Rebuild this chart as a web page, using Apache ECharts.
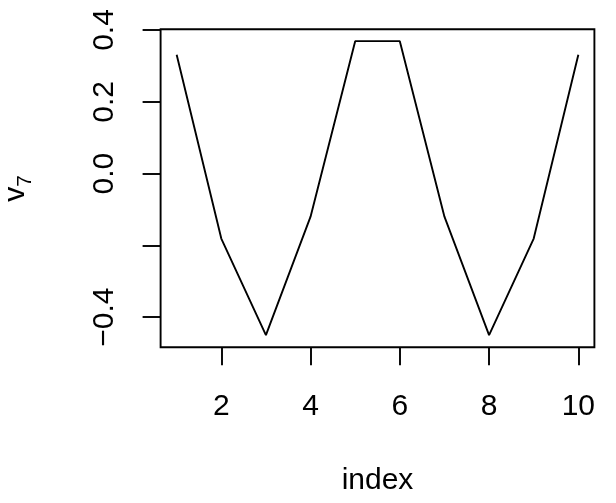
<!DOCTYPE html>
<html>
<head>
<meta charset="utf-8">
<script src="https://cdn.jsdelivr.net/npm/echarts@6/dist/echarts.min.js"></script>
<style>
  html, body { margin: 0; padding: 0; background: #fff; }
  #chart { width: 616px; height: 503px; }
</style>
</head>
<body>
<div id="chart"></div>
<script>
// values
const index = [1, 2, 3, 4, 5, 6, 7, 8, 9, 10];
const v7 = [0.331, -0.181, -0.450, -0.120, 0.369, 0.369, -0.120, -0.450, -0.181, 0.331];
const xTicks = [2, 4, 6, 8, 10];
const yTicks = [-0.4, -0.2, 0, 0.2, 0.4];
const yLabels = [-0.4, 0, 0.2, 0.4];

const font = 'Liberation Sans, Arial, sans-serif';
const lw = 1.9;

const chart = echarts.init(document.getElementById('chart'), null, { renderer: 'canvas' });
chart.setOption({
  animation: false,
  backgroundColor: '#fff',
  grid: {
    left: 160.6,
    right: 21.6,
    top: 29.3,
    bottom: 155.7,
    containLabel: false,
    outerBoundsMode: 'none',
    show: true,
    borderColor: '#000',
    borderWidth: lw,
    backgroundColor: 'transparent'
  },
  xAxis: {
    type: 'value',
    min: 0.64,
    max: 10.36,
    name: 'index',
    nameLocation: 'middle',
    nameGap: 118,
    nameTextStyle: { color: '#000', fontSize: 30, fontFamily: font },
    axisLine: { show: false, onZero: false },
    splitLine: { show: false },
    axisTick: { show: true, inside: false, length: 18, customValues: xTicks, lineStyle: { color: '#000', width: lw } },
    axisLabel: { customValues: xTicks, color: '#000', fontSize: 30, fontFamily: font, margin: 44 }
  },
  yAxis: {
    type: 'value',
    min: -0.484,
    max: 0.402,
    name: 'v{s|7}',
    nameLocation: 'middle',
    nameRotate: 90,
    nameGap: 125,
    nameTextStyle: {
      color: '#000', fontSize: 30, fontFamily: font,
      rich: {
        s: { fontSize: 21, fontFamily: font, color: '#000', verticalAlign: 'bottom', lineHeight: 21 }
      },
      lineHeight: 40
    },
    axisLine: { show: false, onZero: false },
    splitLine: { show: false },
    axisTick: { show: true, inside: false, length: 18, customValues: yTicks, lineStyle: { color: '#000', width: lw } },
    axisLabel: {
      customValues: yLabels,
      rotate: 90,
      color: '#000', fontSize: 30, fontFamily: font, margin: 41,
      formatter: function (v) {
        return (v < 0 ? '\u2212' : '') + Math.abs(v).toFixed(1);
      }
    }
  },
  series: [{
    type: 'line',
    data: index.map((x, i) => [x, v7[i]]),
    showSymbol: false,
    lineStyle: { color: '#000', width: lw },
    itemStyle: { color: '#000' }
  }]
});
</script>
</body>
</html>
